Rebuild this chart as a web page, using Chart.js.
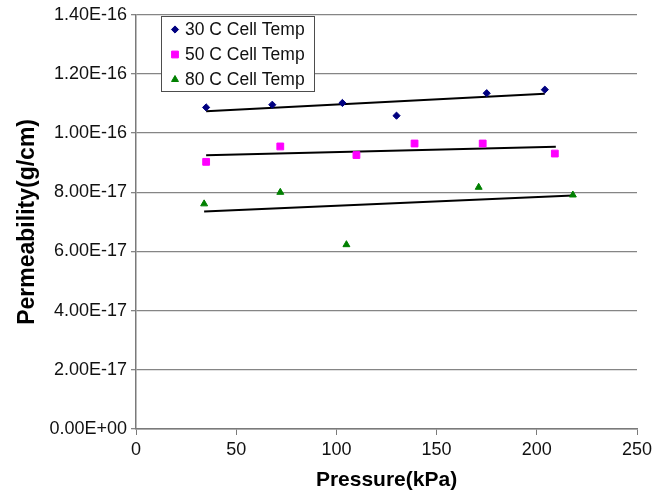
<!DOCTYPE html>
<html>
<head>
<meta charset="utf-8">
<script src="https://cdn.jsdelivr.net/npm/chart.js@4/dist/chart.umd.min.js"></script>
<style>
  html, body { margin: 0; padding: 0; background: #ffffff; }
  #wrap { width: 666px; height: 496px; }
</style>
</head>
<body>
<div id="wrap"><canvas id="c" width="666" height="496"></canvas></div>
<script>
// ---- data ----
const seriesNames = ['30 C Cell Temp', '50 C Cell Temp', '80 C Cell Temp'];

const pressure30 = [35, 68, 103, 130, 175, 204];
const perm30     = [1.087e-16, 1.096e-16, 1.102e-16, 1.059e-16, 1.135e-16, 1.147e-16];

const pressure50 = [35, 72, 110, 139, 173, 209];
const perm50     = [9.03e-17, 9.55e-17, 9.26e-17, 9.65e-17, 9.65e-17, 9.31e-17];

const pressure80 = [34, 72, 105, 171, 218];
const perm80     = [7.61e-17, 8.00e-17, 6.23e-17, 8.17e-17, 7.91e-17];

// trend line end points
const trendX30 = [35, 204];   const trendY30 = [1.074e-16, 1.133e-16];
const trendX50 = [35, 209.5]; const trendY50 = [9.25e-17, 9.54e-17];
const trendX80 = [34, 218];   const trendY80 = [7.35e-17, 7.89e-17];

const xTicks = [0, 50, 100, 150, 200, 250];
const yTicks = [0, 2e-17, 4e-17, 6e-17, 8e-17, 1e-16, 1.2e-16, 1.4e-16];

const xTitle = 'Pressure(kPa)';
const yTitle = 'Permeability(g/cm)';

// ---- helpers ----
function pts(xs, ys) { return xs.map((x, i) => ({ x: x, y: ys[i] })); }
function fmtSci(v) {
  if (Math.abs(v) < 1e-30) return '0.00E+00';
  const s = v.toExponential(2);
  const parts = s.split('e');
  const sign = parts[1][0];
  const d = parts[1].slice(1).padStart(2, '0');
  return parts[0] + 'E' + sign + d;
}

const FONT = "'Liberation Sans', Arial, sans-serif";
const GRID = '#858585';
const AXIS = '#7a7a7a';

const markerStyles = [
  { pointStyle: 'rectRot', radius: 3.6, color: '#000080' },
  { pointStyle: 'rect', radius: 4.8, color: '#ff00ff' },
  { pointStyle: 'triangle', radius: 4, color: '#008000' }
];

const datasets = [
  { label: seriesNames[0], data: pts(pressure30, perm30) },
  { label: seriesNames[1], data: pts(pressure50, perm50) },
  { label: seriesNames[2], data: pts(pressure80, perm80) }
].map((d, i) => Object.assign(d, {
  showLine: false,
  pointStyle: markerStyles[i].pointStyle,
  pointRadius: markerStyles[i].radius,
  pointBackgroundColor: markerStyles[i].color,
  pointBorderColor: markerStyles[i].color,
  pointBorderWidth: 1,
  order: 1
}));

[[trendX30, trendY30], [trendX50, trendY50], [trendX80, trendY80]].forEach((t, i) => {
  datasets.push({
    label: 'trend' + i,
    data: pts(t[0], t[1]),
    showLine: true,
    borderColor: '#000000',
    borderWidth: 2,
    pointRadius: 0,
    fill: false,
    order: 2,
    isTrend: true
  });
});

// custom legend drawn inside the plot area (top-left box)
const boxLegend = {
  id: 'boxLegend',
  afterDatasetsDraw(chart) {
    const ctx = chart.ctx;
    const x0 = 161, y0 = 16, w = 153, h = 75;
    ctx.save();
    ctx.fillStyle = '#ffffff';
    ctx.fillRect(x0, y0, w, h);
    ctx.strokeStyle = '#4d4d4d';
    ctx.lineWidth = 1;
    ctx.strokeRect(x0 + 0.5, y0 + 0.5, w, h);
    const rowsY = [29.5, 54.5, 79.5];
    ctx.font = '17.5px ' + FONT;
    ctx.textBaseline = 'middle';
    ctx.textAlign = 'left';
    for (let i = 0; i < 3; i++) {
      const ds = chart.data.datasets[i];
      const opts = { pointStyle: ds.pointStyle, radius: ds.pointRadius, rotation: 0, borderWidth: 1 };
      ctx.fillStyle = ds.pointBackgroundColor;
      ctx.strokeStyle = ds.pointBorderColor;
      ctx.lineWidth = 1;
      Chart.helpers.drawPoint(ctx, opts, 175, rowsY[i]);
      ctx.fillStyle = '#111111';
      ctx.fillText(ds.label, 185, rowsY[i] + 1);
    }
    ctx.restore();
  }
};

new Chart(document.getElementById('c'), {
  type: 'scatter',
  data: { datasets: datasets },
  plugins: [boxLegend],
  options: {
    responsive: false,
    animation: false,
    devicePixelRatio: 1,
    layout: { padding: { top: 14, right: 29, left: 0, bottom: 0 } },
    plugins: {
      legend: { display: false },
      tooltip: { enabled: false },
      title: { display: false }
    },
    scales: {
      x: {
        type: 'linear',
        min: 0, max: 250,
        afterBuildTicks(scale) { scale.ticks = xTicks.map(v => ({ value: v })); },
        afterFit(scale) { scale.height = 67; },
        ticks: {
          color: '#111111',
          font: { family: FONT, size: 18 },
          padding: 4,
          maxRotation: 0,
          autoSkip: false
        },
        grid: {
          drawOnChartArea: false,
          drawTicks: true,
          tickLength: 6,
          color: AXIS,
          lineWidth: 1
        },
        border: { display: true, color: AXIS, width: 1.5 },
        title: {
          display: true,
          text: xTitle,
          color: '#000000',
          font: { family: FONT, size: 21, weight: 'bold' },
          padding: { top: 0, bottom: 3 }
        }
      },
      y: {
        type: 'linear',
        min: 0, max: 1.4e-16,
        afterBuildTicks(scale) { scale.ticks = yTicks.map(v => ({ value: v })); },
        afterFit(scale) { scale.width = 136; },
        ticks: {
          color: '#111111',
          font: { family: FONT, size: 18 },
          padding: 4,
          autoSkip: false,
          callback: (v) => fmtSci(v)
        },
        grid: {
          drawOnChartArea: true,
          drawTicks: true,
          tickLength: 5,
          color: GRID,
          lineWidth: 1.3
        },
        border: { display: true, color: AXIS, width: 1.5 },
        title: {
          display: true,
          text: yTitle,
          color: '#000000',
          font: { family: FONT, size: 23, weight: 'bold' },
          padding: { top: 14, bottom: 0 }
        }
      }
    }
  }
});
</script>
</body>
</html>
